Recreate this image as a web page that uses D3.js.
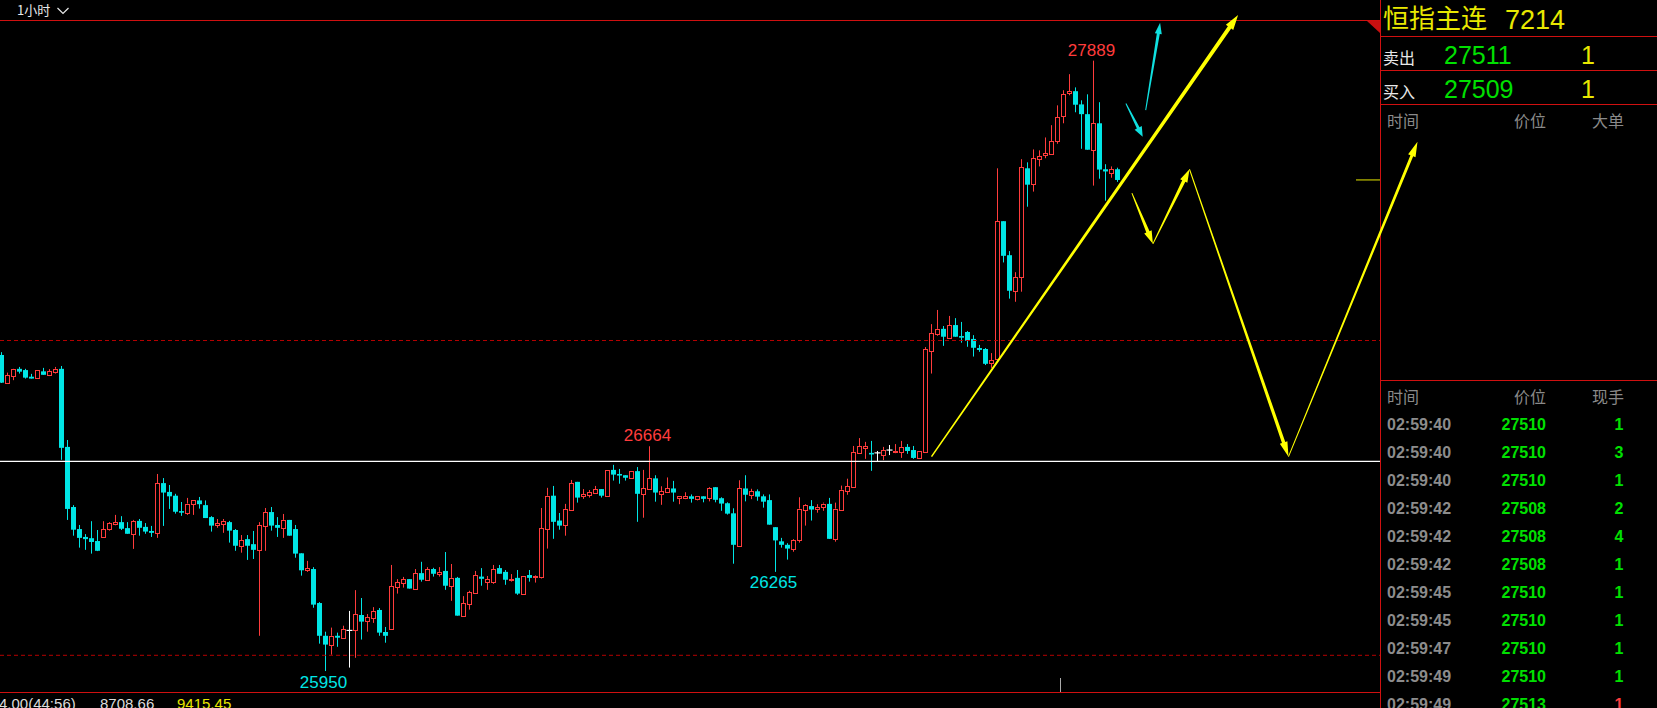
<!DOCTYPE html>
<html><head><meta charset="utf-8">
<script src="https://cdn.jsdelivr.net/npm/d3@7"></script>
<style>html,body{margin:0;padding:0;background:#000;overflow:hidden}</style>
</head><body>
<svg id="c" width="1657" height="708"></svg>
<script>
// ---------- DATA ----------
const opens = [26954,26865,26888,26910,26906,26885,26882,26902,26891,26901,26910,26662,26471,26401,26376,26372,26363,26375,26402,26418,
26423,26404,26386,26427,26408,26395,26389,26547,26519,26507,26458,26453,26480,26492,26477,26439,26415,26418,26423,26398,
26348,26369,26353,26335,26412,26455,26414,26405,26430,26401,26324,26270,26274,26166,26062,26034,26062,26056,26079,26081,
26128,26109,26119,26144,26074,26084,26218,26231,26242,26212,26261,26240,26274,26259,26268,26221,26246,26126,26164,26199,
26250,26234,26234,26277,26265,26239,26246,26196,26255,26250,26250,26402,26507,26428,26415,26463,26551,26507,26510,26517,
26528,26507,26589,26576,26572,26564,26585,26513,26529,26562,26513,26520,26530,26501,26501,26505,26497,26505,26501,26534,
26499,26483,26451,26348,26530,26510,26521,26505,26493,26407,26362,26351,26339,26367,26463,26474,26466,26470,26481,26370,
26463,26523,26536,26644,26660,26643,26643,26636,26652,26645,26646,26662,26652,26627,26647,26968,27022,27037,27009,27049,
27014,27027,27005,26976,26973,26927,26940,27379,27271,27158,27201,27547,27498,27576,27588,27593,27635,27712,27785,27792,
27750,27719,27606,27690,27544,27533,27544];
const highs = [26963,26898,26910,26916,26910,26894,26905,26913,26909,26916,26919,26684,26477,26414,26385,26426,26398,26426,26423,26446,
26442,26423,26430,26433,26420,26411,26576,26563,26541,26513,26487,26500,26492,26503,26492,26442,26433,26433,26427,26401,
26382,26382,26395,26423,26468,26471,26439,26449,26430,26414,26324,26300,26280,26169,26075,26088,26072,26094,26141,26207,
26182,26131,26153,26150,26090,26287,26242,26249,26242,26274,26297,26280,26278,26280,26328,26290,26249,26188,26205,26268,
26277,26252,26287,26287,26271,26258,26271,26252,26271,26255,26468,26532,26538,26452,26481,26557,26551,26528,26525,26538,
26528,26589,26605,26592,26572,26585,26598,26589,26664,26572,26537,26565,26554,26505,26518,26511,26505,26505,26534,26534,
26502,26486,26467,26556,26572,26529,26527,26511,26511,26407,26373,26356,26369,26502,26480,26493,26480,26485,26500,26485,
26539,26561,26665,26690,26678,26681,26649,26662,26668,26671,26681,26671,26665,26649,26979,27052,27097,27046,27078,27071,
27059,27030,27017,26986,26976,26960,27547,27379,27284,27217,27576,27566,27607,27604,27645,27684,27747,27795,27846,27804,
27763,27782,27889,27757,27560,27553,27549];
const lows = [26865,26863,26874,26895,26879,26879,26882,26891,26887,26895,26621,26430,26380,26342,26335,26323,26331,26375,26396,26413,
26398,26386,26338,26380,26386,26376,26373,26411,26465,26450,26443,26446,26446,26466,26436,26393,26405,26389,26358,26332,
26326,26303,26306,26062,26332,26396,26376,26373,26380,26310,26253,26265,26151,26037,25950,26002,26027,26053,25961,25992,
26050,26075,26103,26062,26040,26084,26196,26215,26212,26208,26234,26237,26250,26250,26208,26173,26126,26126,26145,26196,
26221,26208,26227,26259,26224,26234,26192,26196,26234,26231,26244,26339,26370,26399,26380,26459,26485,26497,26501,26513,
26501,26504,26555,26545,26555,26564,26424,26437,26529,26488,26478,26516,26488,26480,26496,26485,26492,26486,26489,26486,
26459,26447,26291,26348,26489,26496,26491,26469,26415,26265,26342,26304,26329,26358,26412,26428,26453,26459,26370,26361,
26463,26510,26536,26641,26624,26586,26617,26620,26636,26642,26627,26640,26624,26624,26647,26895,27015,26983,27009,27012,
26993,26980,26949,26964,26922,26913,26940,27248,27133,27123,27155,27425,27473,27553,27579,27590,27625,27690,27779,27725,
27609,27606,27492,27514,27444,27517,27504];
const closes = [26866,26890,26909,26901,26882,26879,26905,26891,26902,26910,26659,26465,26399,26373,26369,26360,26332,26401,26420,26423,
26402,26386,26427,26405,26393,26389,26547,26517,26505,26456,26453,26482,26492,26480,26436,26412,26420,26427,26396,26348,
26366,26348,26335,26414,26455,26412,26405,26430,26380,26323,26270,26277,26161,26062,26034,26062,26056,26083,26079,26131,
26107,26121,26141,26072,26062,26220,26232,26242,26212,26261,26240,26274,26259,26265,26221,26246,26126,26166,26201,26255,
26243,26242,26274,26259,26240,26242,26196,26252,26246,26253,26404,26507,26424,26412,26465,26547,26501,26512,26519,26528,
26507,26589,26574,26571,26564,26585,26513,26531,26562,26517,26521,26530,26517,26505,26505,26497,26505,26497,26530,26494,
26482,26450,26351,26530,26510,26521,26504,26488,26415,26365,26351,26339,26366,26466,26477,26463,26470,26482,26370,26466,
26526,26537,26646,26665,26665,26638,26643,26652,26652,26649,26662,26649,26627,26649,26973,27024,27037,27012,27049,27012,
27009,26999,26977,26970,26926,26938,27379,27269,27158,27201,27550,27495,27579,27585,27595,27633,27709,27782,27792,27749,
27719,27606,27690,27543,27537,27544,27510];

const dashedLevels = [27000, 26000];
const supportLevel = 26616;
const lastPrice = 27510;
const extremeLabels = [
  {i:182, v:27889, kind:"high"},
  {i:108, v:26664, kind:"high"},
  {i:129, v:26265, kind:"low"},
  {i:54,  v:25950, kind:"low"}
];
// hand-drawn arrows: [index, price] start -> end
const arrows = [
  {from:[155.0,26631], to:[206.1,28034], color:"#ffff00", w0:1.5, w1:4, L:15, W:9},
  {from:[190.7,27732], to:[193.1,28009], color:"#10e0e0", w0:1, w1:3, L:11, W:7},
  {from:[187.4,27753], to:[190.2,27647], color:"#10e0e0", w0:1, w1:3, L:10, W:8},
  {from:[188.4,27468], to:[191.9,27307], color:"#ffff00", w0:1, w1:3.5, L:13, W:8},
  {from:[191.9,27307], to:[198.0,27544], color:"#ffff00", w0:1, w1:3.5, L:13, W:8},
  {from:[198.0,27544], to:[214.5,26631], color:"#ffff00", w0:1, w1:3.5, L:15, W:8},
  {from:[214.5,26631], to:[236.0,27631], color:"#ffff00", w0:1, w1:3, L:15, W:8}
];
const panelTitle = "恒指主连", panelCode = "7214";
const quoteRows = [
  {label:"卖出", price:"27511", vol:"1"},
  {label:"买入", price:"27509", vol:"1"}
];
const tickTimes  = ["02:59:40","02:59:40","02:59:40","02:59:42","02:59:42","02:59:42","02:59:45","02:59:45","02:59:47","02:59:49","02:59:49"];
const tickPrices = ["27510","27510","27510","27508","27508","27508","27510","27510","27510","27510","27513"];
const tickVols   = ["1","3","1","2","4","1","1","1","1","1","1"];
const tickVolUp  = [false,false,false,false,false,false,false,false,false,false,true];
const bottomTexts = [{t:"4.00(44:56)", c:"#dcdcdc"}, {t:"8708.66", c:"#dcdcdc"}, {t:"9415.45", c:"#e8e800"}];

// ---------- SCALES ----------
const W = 1657, H = 708, PX = 1381;
const x = d3.scaleLinear().domain([0, 186]).range([1.5, 1117.5]);
const y = d3.scaleLinear().domain([26000, 27000]).range([655.3, 340.5]);
const RED = "#ff3c3c", CYAN = "#00e6e6";

const svg = d3.select("#c");
svg.append("rect").attr("width", W).attr("height", H).attr("fill", "#000");

const chart = svg.append("g");
// candles
const data = opens.map((o, i) => ({i, o, h: highs[i], l: lows[i], c: closes[i]}));
const cg = chart.append("g");
data.forEach(d => {
  const cx = x(d.i);
  const top = y(Math.max(d.o, d.c)), bot = y(Math.min(d.o, d.c));
  const g = cg.append("g");
  if (d.c > d.o) {
    g.append("line").attr("x1", cx).attr("x2", cx).attr("y1", y(d.h)).attr("y2", top).attr("stroke", RED);
    g.append("line").attr("x1", cx).attr("x2", cx).attr("y1", bot).attr("y2", y(d.l)).attr("stroke", RED);
    g.append("rect").attr("x", cx - 2).attr("y", Math.round(top) + 0.5).attr("width", 4)
      .attr("height", Math.max(1, Math.round(bot) - Math.round(top))).attr("fill", "#000").attr("stroke", RED);
  } else if (d.c < d.o) {
    g.append("line").attr("x1", cx).attr("x2", cx).attr("y1", y(d.h)).attr("y2", y(d.l)).attr("stroke", CYAN);
    g.append("rect").attr("x", cx - 2.5).attr("y", top).attr("width", 5)
      .attr("height", Math.max(1.5, bot - top)).attr("fill", CYAN);
  } else {
    g.append("line").attr("x1", cx).attr("x2", cx).attr("y1", y(d.h)).attr("y2", y(d.l)).attr("stroke", "#fff");
    g.append("line").attr("x1", cx - 3).attr("x2", cx + 3).attr("y1", top).attr("y2", top).attr("stroke", "#fff").attr("stroke-width", 1.2);
  }
});

// reference lines
dashedLevels.forEach(v => {
  chart.append("line").attr("x1", 0).attr("x2", PX).attr("y1", y(v)).attr("y2", y(v))
    .attr("stroke", "#b40000").attr("stroke-dasharray", "4,3");
});
chart.append("line").attr("x1", 0).attr("x2", PX).attr("y1", y(supportLevel)).attr("y2", y(supportLevel))
  .attr("stroke", "#ffffff").attr("stroke-width", 1.3);
chart.append("line").attr("x1", 1356).attr("x2", PX).attr("y1", y(lastPrice)).attr("y2", y(lastPrice))
  .attr("stroke", "#e8e800");

// extreme labels
const numFont = "'Liberation Sans Narrow','Arial Narrow','Liberation Sans',sans-serif";
extremeLabels.forEach(e => {
  chart.append("text").attr("x", x(e.i) - 2)
    .attr("y", e.kind === "high" ? y(e.v) - 5 : y(e.v) + 16.5)
    .attr("text-anchor", "middle").attr("font-family", numFont).attr("font-size", 17)
    .attr("fill", e.kind === "high" ? RED : CYAN).text(e.v);
});

// frame lines
svg.append("line").attr("x1", 0).attr("x2", PX).attr("y1", 20.5).attr("y2", 20.5).attr("stroke", "#d01010");
svg.append("line").attr("x1", 0).attr("x2", PX).attr("y1", 692.5).attr("y2", 692.5).attr("stroke", "#d01010");
svg.append("line").attr("x1", PX - 0.5).attr("x2", PX - 0.5).attr("y1", 0).attr("y2", H).attr("stroke", "#d01010");
[36.5, 70.5, 104.5, 380.5].forEach(yy => {
  svg.append("line").attr("x1", PX).attr("x2", W).attr("y1", yy).attr("y2", yy).attr("stroke", "#d01010");
});
svg.append("path").attr("d", "M1367,21L1380,21L1380,33Z").attr("fill", "#c81010");

// small timeframe selector
svg.append("text").attr("x", 17).attr("y", 15).attr("font-family", "'Noto Sans CJK SC',sans-serif")
  .attr("font-size", 13).attr("fill", "#e8e8e8").text("1小时");
svg.append("path").attr("d", "M57.5,8L63,13.5L68.5,8").attr("fill", "none").attr("stroke", "#e8e8e8").attr("stroke-width", 1.2);

// bottom texts
let bx = -1;
const bPos = [-1, 100, 177];
bottomTexts.forEach((b, k) => {
  svg.append("text").attr("x", bPos[k]).attr("y", 709).attr("font-family", "'Liberation Sans',sans-serif")
    .attr("font-size", 15).attr("fill", b.c).text(b.t);
});
svg.append("line").attr("x1", 1060.5).attr("x2", 1060.5).attr("y1", 678).attr("y2", 692).attr("stroke", "#aaa");

// ---------- PANEL ----------
const cjk = "'Noto Sans CJK SC',sans-serif";
const YEL = "#e8e800", GRN = "#00e000", GRY = "#8a8a8a";
svg.append("text").attr("x", 1383).attr("y", 28).attr("font-family", cjk).attr("font-size", 26).attr("fill", YEL).text(panelTitle);
svg.append("text").attr("x", 1505).attr("y", 28.5).attr("font-family", "'Liberation Sans',sans-serif").attr("font-size", 27).attr("fill", YEL).text(panelCode);
quoteRows.forEach((r, k) => {
  const by = 63.5 + k * 34;
  svg.append("text").attr("x", 1383).attr("y", by).attr("font-family", cjk).attr("font-size", 16).attr("fill", "#e8e8e8").text(r.label);
  svg.append("text").attr("x", 1444).attr("y", by).attr("font-family", "'Liberation Sans',sans-serif").attr("font-size", 25).attr("fill", GRN).text(r.price);
  svg.append("text").attr("x", 1595).attr("y", by).attr("text-anchor", "end").attr("font-family", "'Liberation Sans',sans-serif").attr("font-size", 25).attr("fill", YEL).text(r.vol);
});
function header(yy, third) {
  svg.append("text").attr("x", 1387).attr("y", yy).attr("font-family", cjk).attr("font-size", 16).attr("fill", GRY).text("时间");
  svg.append("text").attr("x", 1546).attr("y", yy).attr("text-anchor", "end").attr("font-family", cjk).attr("font-size", 16).attr("fill", GRY).text("价位");
  svg.append("text").attr("x", 1624).attr("y", yy).attr("text-anchor", "end").attr("font-family", cjk).attr("font-size", 16).attr("fill", GRY).text(third);
}
header(127, "大单");
header(403, "现手");
tickTimes.forEach((t, k) => {
  const by = 430 + k * 28;
  svg.append("text").attr("x", 1387).attr("y", by).attr("font-family", "'Liberation Sans',sans-serif").attr("font-weight", "bold").attr("font-size", 16).attr("fill", "#8c8c8c").text(t);
  svg.append("text").attr("x", 1546).attr("y", by).attr("text-anchor", "end").attr("font-family", "'Liberation Sans',sans-serif").attr("font-weight", "bold").attr("font-size", 16).attr("fill", GRN).text(tickPrices[k]);
  svg.append("text").attr("x", 1623.5).attr("y", by).attr("text-anchor", "end").attr("font-family", "'Liberation Sans',sans-serif").attr("font-weight", "bold").attr("font-size", 16).attr("fill", tickVolUp[k] ? RED : GRN).text(tickVols[k]);
});

// ---------- ARROWS ----------
function arrowPath(x0, y0, x1, y1, w0, w1, L, Wd) {
  const dx = x1 - x0, dy = y1 - y0, len = Math.hypot(dx, dy);
  const ux = dx / len, uy = dy / len, nx = -uy, ny = ux;
  const sx = x1 - ux * L, sy = y1 - uy * L;
  const pts = [[x0 + nx * w0 / 2, y0 + ny * w0 / 2], [sx + nx * w1 / 2, sy + ny * w1 / 2], [sx + nx * Wd / 2, sy + ny * Wd / 2],
    [x1, y1], [sx - nx * Wd / 2, sy - ny * Wd / 2], [sx - nx * w1 / 2, sy - ny * w1 / 2], [x0 - nx * w0 / 2, y0 - ny * w0 / 2]];
  return d3.line()(pts) + "Z";
}
arrows.forEach(a => {
  svg.append("path").attr("d", arrowPath(x(a.from[0]), y(a.from[1]), x(a.to[0]), y(a.to[1]), a.w0, a.w1, a.L, a.W))
    .attr("fill", a.color);
});
</script>
</body></html>
